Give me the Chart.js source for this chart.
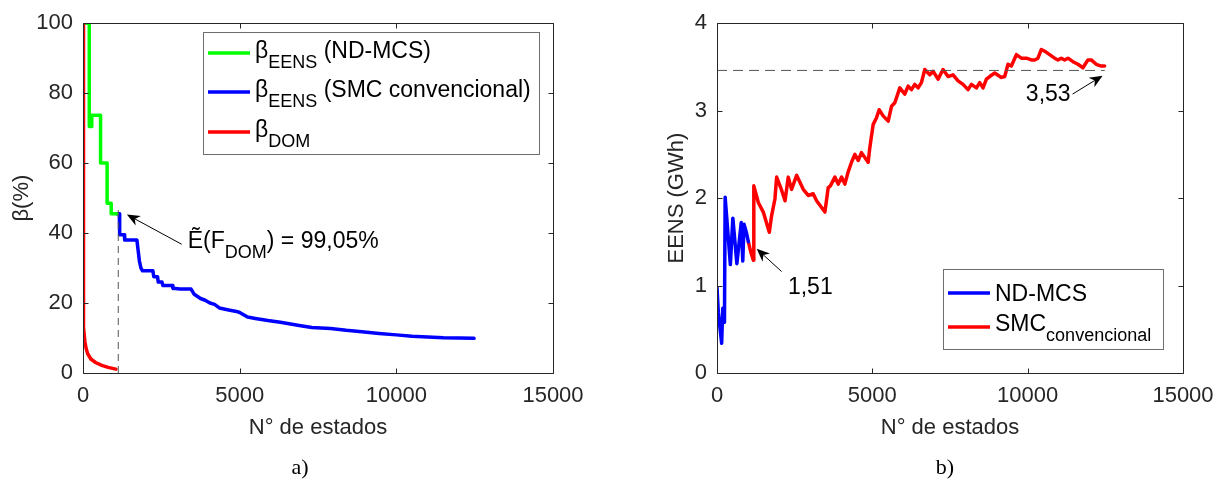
<!DOCTYPE html>
<html>
<head>
<meta charset="utf-8">
<script src="https://cdn.jsdelivr.net/npm/chart.js@4.4.0/dist/chart.umd.min.js"></script>
<style>
  html, body { margin: 0; padding: 0; background: #fff; }
  #wrap { position: relative; width: 1224px; height: 486px; }
  canvas { position: absolute; top: 0; }
</style>
</head>
<body>
<div id="wrap">
  <canvas id="betaChart" width="612" height="486" style="left:0"></canvas>
  <canvas id="eensChart" width="612" height="486" style="left:612px"></canvas>
</div>
<script>
// tick labels
const xTicks = [0, 5000, 10000, 15000];
const betaTicks = [0, 20, 40, 60, 80, 100];
const eensTicks = [0, 1, 2, 3, 4];

// a) beta_DOM
const domX = [0, 5, 15, 30, 60, 100, 150, 250, 400, 600, 800, 1050];
const domY = [100, 40, 20, 13, 9, 7, 5.5, 4, 3, 2.2, 1.6, 1.1];
// a) beta_EENS (ND-MCS)
const ndX = [30, 200, 200, 280, 280, 560, 560, 770, 770, 900, 900, 1080];
const ndY = [100, 100, 70.5, 70.5, 73.7, 73.7, 60, 60, 48.5, 48.5, 45.5, 45.5];
// a) beta_EENS (SMC convencional)
const smcX = [1080, 1160, 1170, 1320, 1330, 1720, 1760, 1800, 1850, 1900, 2230, 2260, 2380, 2400, 2520, 2550, 2850, 2870, 3100, 3450, 3550, 3750, 3900, 4050, 4200, 4350, 4500, 4650, 4900, 5000, 5250, 5500, 5900, 6300, 6900, 7300, 7900, 8400, 8900, 9450, 10000, 10500, 11000, 11500, 12000, 12480];
const smcY = [45.5, 45.5, 39.5, 39.5, 38, 38, 35, 32, 30, 29.2, 29.2, 27.5, 27.5, 26, 26, 25, 25, 24.2, 24, 24, 22.5, 21.3, 20.8, 20, 19.6, 18.6, 18.3, 18, 17.6, 17.3, 16, 15.6, 15, 14.5, 13.6, 13, 12.7, 12.2, 11.8, 11.3, 10.9, 10.5, 10.3, 10.1, 10.0, 9.9];
// a) dashed marker
const markX = [1125, 1125];
const markY = [0, 47];

// b) EENS ND-MCS
const eNdX = [0, 43, 150, 185, 240, 262, 430, 510, 640, 780, 830, 870, 950, 1010];
const eNdY = [0.98, 0.69, 0.34, 0.74, 0.58, 2.01, 1.24, 1.77, 1.25, 1.72, 1.28, 1.70, 1.60, 1.50];
// b) EENS SMC convencional
const eSmcX = [1010, 1090, 1170, 1185, 1330, 1490, 1684, 1758, 1865, 1920, 2080, 2190, 2293, 2400, 2563, 2776, 2936, 3097, 3206, 3473, 3580, 3650, 3794, 3900, 4010, 4116, 4222, 4330, 4437, 4544, 4650, 4865, 4920, 5025, 5135, 5220, 5348, 5510, 5617, 5724, 5884, 6045, 6153, 6260, 6367, 6473, 6580, 6688, 6849, 6955, 7116, 7276, 7437, 7598, 7759, 7920, 8080, 8190, 8350, 8457, 8563, 8672, 8778, 8939, 9154, 9260, 9367, 9475, 9636, 9797, 9958, 10119, 10225, 10331, 10440, 10547, 10707, 10868, 10975, 11084, 11190, 11297, 11457, 11618, 11779, 11940, 12047, 12207, 12370, 12476];
const eSmcY = [1.50, 1.38, 1.29, 2.14, 1.95, 1.84, 1.61, 1.80, 1.99, 2.24, 2.09, 1.97, 2.24, 2.10, 2.26, 2.10, 2.03, 2.05, 1.97, 1.84, 2.12, 2.14, 2.24, 2.16, 2.24, 2.16, 2.30, 2.41, 2.50, 2.43, 2.52, 2.41, 2.58, 2.84, 2.92, 3.01, 2.94, 2.88, 3.05, 3.09, 3.26, 3.19, 3.28, 3.24, 3.30, 3.26, 3.32, 3.47, 3.41, 3.45, 3.36, 3.47, 3.39, 3.41, 3.34, 3.30, 3.24, 3.30, 3.26, 3.32, 3.26, 3.36, 3.39, 3.43, 3.38, 3.39, 3.53, 3.51, 3.64, 3.60, 3.60, 3.58, 3.58, 3.60, 3.70, 3.68, 3.64, 3.60, 3.58, 3.60, 3.58, 3.60, 3.56, 3.53, 3.49, 3.58, 3.58, 3.53, 3.51, 3.51];
// b) dashed reference
const refX = [0, 12480];
const refY = [3.46, 3.46];

const ink = '#262626';
const sans = '"Liberation Sans", Arial, Helvetica, sans-serif';
const mainFont = { family: sans, size: 22 };

function lineSet(xs, ys, color, width, dash) {
  return {
    data: xs.map((x, i) => ({ x: x, y: ys[i] })),
    borderColor: color,
    borderWidth: width,
    borderDash: dash || [],
    borderJoinStyle: 'round',
    borderCapStyle: dash ? 'butt' : 'round',
    pointRadius: 0,
    tension: 0,
    fill: false
  };
}

function axes(yMin, yMax, yTickArr, yTitle, yTitlePad, yWidth) {
  return {
    x: {
      type: 'linear', min: 0, max: 15000,
      afterBuildTicks: s => { s.ticks = xTicks.map(v => ({ value: v })); },
      afterFit: s => { s.height = 113; },
      grid: { display: false, drawTicks: false },
      border: { display: false },
      ticks: { padding: 10, color: ink, font: mainFont, maxRotation: 0, autoSkip: false, callback: v => String(v) },
      title: { display: true, text: 'N° de estados', color: ink, font: mainFont, padding: { top: 0, bottom: 45 } }
    },
    y: {
      type: 'linear', min: yMin, max: yMax,
      afterBuildTicks: s => { s.ticks = yTickArr.map(v => ({ value: v })); },
      afterFit: s => { s.width = yWidth; },
      grid: { display: false, drawTicks: false },
      border: { display: false },
      ticks: { padding: 10, color: ink, font: mainFont, autoSkip: false, callback: v => String(v) },
      title: { display: true, text: yTitle, color: ink, font: mainFont, padding: { top: yTitlePad, bottom: 0 } }
    }
  };
}

// rich text with subscripts: parts = [[text, isSub], ...]
function textWidth(ctx, parts) {
  let w = 0;
  parts.forEach(([t, sub]) => { ctx.font = (sub ? 18 : 23) + 'px ' + sans; w += ctx.measureText(t).width; });
  return w;
}

function richText(ctx, x, y, parts, subDrop) {
  let cx = x;
  ctx.textAlign = 'left';
  ctx.textBaseline = 'alphabetic';
  parts.forEach(([t, sub]) => {
    ctx.font = (sub ? 18 : 23) + 'px ' + sans;
    ctx.fillText(t, cx, sub ? y + subDrop : y);
    cx += ctx.measureText(t).width;
  });
}

function arrow(ctx, x1, y1, x2, y2) {
  const a = Math.atan2(y2 - y1, x2 - x1);
  const L = 13, W = 5.5;
  ctx.save();
  ctx.strokeStyle = '#000';
  ctx.fillStyle = '#000';
  ctx.lineWidth = 1;
  ctx.beginPath();
  ctx.moveTo(x1, y1);
  ctx.lineTo(x2 - Math.cos(a) * L * 0.7, y2 - Math.sin(a) * L * 0.7);
  ctx.stroke();
  ctx.translate(x2, y2);
  ctx.rotate(a);
  ctx.beginPath();
  ctx.moveTo(0, 0);
  ctx.lineTo(-L, -W);
  ctx.lineTo(-L * 0.7, 0);
  ctx.lineTo(-L, W);
  ctx.closePath();
  ctx.fill();
  ctx.restore();
}

// MATLAB-like box with inward ticks on all sides, legend and notes
const frame = {
  id: 'frame',
  afterDraw(chart, args, opts) {
    const { ctx, chartArea: a, scales: { x, y } } = chart;
    const l = Math.round(a.left) + 0.5, r = Math.round(a.right) + 0.5;
    const t = Math.round(a.top) + 0.5, b = Math.round(a.bottom) + 0.5;
    ctx.save();
    ctx.strokeStyle = ink;
    ctx.lineWidth = 1;
    ctx.beginPath();
    ctx.rect(l, t, r - l, b - t);
    x.ticks.forEach(tk => {
      const px = Math.round(x.getPixelForValue(tk.value)) + 0.5;
      ctx.moveTo(px, b); ctx.lineTo(px, b - 5);
      ctx.moveTo(px, t); ctx.lineTo(px, t + 5);
    });
    y.ticks.forEach(tk => {
      const py = Math.round(y.getPixelForValue(tk.value)) + 0.5;
      ctx.moveTo(l, py); ctx.lineTo(l + 5, py);
      ctx.moveTo(r, py); ctx.lineTo(r - 5, py);
    });
    ctx.stroke();

    // legend
    const lg = opts.legend;
    ctx.fillStyle = '#fff';
    ctx.fillRect(lg.box[0], lg.box[1], lg.box[2], lg.box[3]);
    ctx.strokeStyle = '#6e6e6e';
    ctx.strokeRect(lg.box[0] + 0.5, lg.box[1] + 0.5, lg.box[2], lg.box[3]);
    lg.items.forEach(it => {
      ctx.strokeStyle = it.color;
      ctx.lineWidth = 3.5;
      ctx.beginPath();
      ctx.moveTo(lg.lineX[0], it.y);
      ctx.lineTo(lg.lineX[1], it.y);
      ctx.stroke();
      ctx.fillStyle = '#000';
      richText(ctx, lg.textX, it.base, it.parts, 10);
    });

    // annotations
    opts.notes.forEach(n => {
      arrow(ctx, x.getPixelForValue(n.tail[0]), y.getPixelForValue(n.tail[1]),
        x.getPixelForValue(n.tip[0]), y.getPixelForValue(n.tip[1]));
      ctx.fillStyle = '#000';
      const tx = x.getPixelForValue(n.at[0]), ty = y.getPixelForValue(n.at[1]);
      const w = n.align === 'right' ? textWidth(ctx, n.parts) : 0;
      richText(ctx, tx - w, ty, n.parts, 10);
    });

    // panel label
    ctx.fillStyle = '#000';
    ctx.font = '22px "Liberation Serif", "Times New Roman", serif';
    ctx.textAlign = 'center';
    ctx.textBaseline = 'middle';
    ctx.fillText(opts.panel[0], opts.panel[1], 468);
    ctx.restore();
  }
};

new Chart(document.getElementById('betaChart'), {
  type: 'line',
  data: {
    datasets: [
      lineSet(markX, markY, '#555', 1, [7, 5]),
      lineSet(domX, domY, '#ff0000', 3.5),
      lineSet(ndX, ndY, '#00ff00', 3.5),
      lineSet(smcX, smcY, '#0000ff', 3.5)
    ]
  },
  options: {
    responsive: false,
    animation: false,
    layout: { padding: { left: 0, top: 20, right: 59, bottom: 0 } },
    scales: axes(0, 100, betaTicks, 'β(%)', 9, 83),
    plugins: {
      legend: { display: false },
      tooltip: { enabled: false },
      frame: {
        legend: {
          box: [203, 32, 336, 122], lineX: [208, 250], textX: 255,
          items: [
            { color: '#00ff00', y: 53, base: 58, parts: [['β', false], ['EENS', true], [' (ND-MCS)', false]] },
            { color: '#0000ff', y: 92, base: 97, parts: [['β', false], ['EENS', true], [' (SMC convencional)', false]] },
            { color: '#ff0000', y: 132, base: 137, parts: [['β', false], ['DOM', true]] }
          ]
        },
        notes: [
          { tail: [3150, 36.8], tip: [1400, 45.3], at: [3344, 35.7], parts: [['Ẽ(F', false], ['DOM', true], [') = 99,05%', false]] }
        ],
        panel: ['a)', 300]
      }
    }
  },
  plugins: [frame]
});

new Chart(document.getElementById('eensChart'), {
  type: 'line',
  data: {
    datasets: [
      lineSet(refX, refY, '#555', 1, [10, 6]),
      lineSet(eNdX, eNdY, '#0000ff', 3.5),
      lineSet(eSmcX, eSmcY, '#ff0000', 3.5)
    ]
  },
  options: {
    responsive: false,
    animation: false,
    layout: { padding: { left: 0, top: 20, right: 41, bottom: 0 } },
    scales: axes(0, 4, eensTicks, 'EENS (GWh)', 52, 105),
    plugins: {
      legend: { display: false },
      tooltip: { enabled: false },
      frame: {
        legend: {
          box: [331, 269, 220, 80], lineX: [336, 378], textX: 383,
          items: [
            { color: '#0000ff', y: 293, base: 301, parts: [['ND-MCS', false]] },
            { color: '#ff0000', y: 327, base: 331, parts: [['SMC', false], ['convencional', true]] }
          ]
        },
        notes: [
          { tail: [2080, 1.16], tip: [1277, 1.42], at: [2283, 0.90], parts: [['1,51', false]] },
          { tail: [11447, 3.19], tip: [12411, 3.40], at: [11383, 3.11], align: 'right', parts: [['3,53', false]] }
        ],
        panel: ['b)', 333]
      }
    }
  },
  plugins: [frame]
});
</script>
</body>
</html>
